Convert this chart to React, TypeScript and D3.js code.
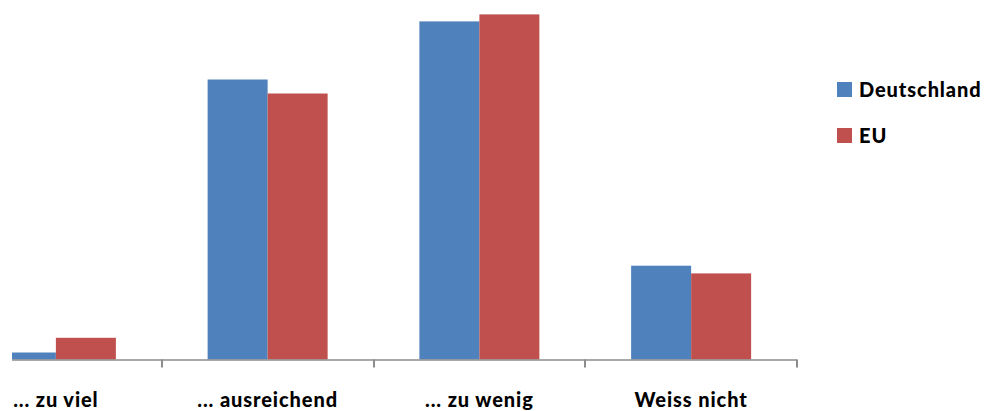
import React from "react";
import * as d3 from "d3";

const categories = ["... zu viel", "... ausreichend", "... zu wenig", "Weiss nicht"];
const seriesNames = ["Deutschland", "EU"];
const deutschland = [1, 40, 48.3, 13.4];
const eu = [3.1, 38, 49.3, 12.3];
const colors = ["#4F81BD", "#C0504D"];

const W = 989;
const H = 411;

export default function App() {
  const baseline = 359.5;
  const x0 = d3.scaleBand<string>().domain(categories).range([-50, 797]).padding(0);
  const groupW = 120;
  const x1 = d3.scaleBand<string>().domain(seriesNames).range([0, groupW]).padding(0);
  const y = d3.scaleLinear().domain([0, 50]).range([baseline, baseline - 350]);
  const values = [deutschland, eu];
  const offset = (x0.bandwidth() - groupW) / 2;

  return (
    <svg
      width={W}
      height={H}
      style={{ position: "absolute", left: 0, top: 0, background: "#fff" }}
      fontFamily="Lato, 'Open Sans', sans-serif"
    >
      <defs>
        <clipPath id="plotclip">
          <rect x={12} y={0} width={800} height={H} />
        </clipPath>
      </defs>
      <g clipPath="url(#plotclip)">
        {categories.map((c, i) =>
          seriesNames.map((s, j) => {
            const v = values[j][i];
            const bx = (x0(c) ?? 0) + offset + (x1(s) ?? 0);
            return (
              <rect
                key={c + s}
                x={bx}
                y={y(v)}
                width={x1.bandwidth()}
                height={baseline - y(v)}
                fill={colors[j]}
              />
            );
          })
        )}
      </g>
      <line x1={12} x2={797} y1={baseline + 0.5} y2={baseline + 0.5} stroke="#8c8c8c" strokeWidth={1.5} />
      {categories.slice(1).map((c) => {
        const tx = Math.round(x0(c) ?? 0);
        return <line key={"t" + c} x1={tx} x2={tx} y1={baseline} y2={baseline + 8} stroke="#8c8c8c" strokeWidth={2} />;
      })}
      <line x1={797} x2={797} y1={baseline} y2={baseline + 8} stroke="#8c8c8c" strokeWidth={2} />
      {categories.map((c) => (
        <text
          key={"l" + c}
          x={(x0(c) ?? 0) + x0.bandwidth() / 2}
          y={406.5}
          textAnchor="middle"
          fontSize={20}
          fontWeight={900}
          letterSpacing={0.9}
          fill="#000"
        >
          {c}
        </text>
      ))}
      {seriesNames.map((s, j) => (
        <g key={"lg" + s} transform={`translate(837, ${82 + j * 46})`}>
          <rect x={0} y={0} width={15} height={15} fill={colors[j]} />
          <text x={22} y={15} fontSize={20} fontWeight={900} letterSpacing={0.9} fill="#000">
            {s}
          </text>
        </g>
      ))}
    </svg>
  );
}
